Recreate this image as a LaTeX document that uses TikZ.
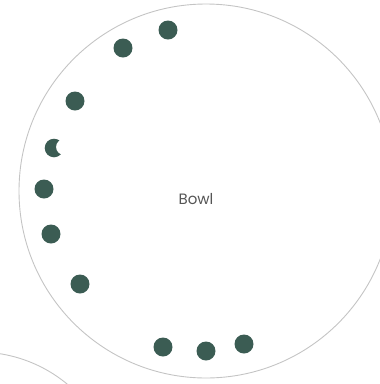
\documentclass[tikz,border=0pt]{standalone}
\usepackage{fontspec}
\setmainfont{Poppins}
\definecolor{dotc}{HTML}{3B5C53}
\definecolor{rim}{HTML}{C4C4C4}
\definecolor{lbl}{HTML}{555555}
\begin{document}
\begin{tikzpicture}[x=1pt,y=-1pt,
  dot/.style={circle,fill=dotc,minimum size=19pt,inner sep=0pt},
  bowlrim/.style={circle,draw=rim,line width=0.9pt,inner sep=0pt}]
\useasboundingbox (0,0) rectangle (380,384);
\begin{scope}
\clip (0,0) rectangle (380,384);
\node[bowlrim,minimum size=374pt] (bowl) at (206,191) {};
\node[bowlrim,minimum size=280pt] (bowl2) at (-22,492) {};
\end{scope}
\node[font=\fontsize{15}{18}\selectfont,text=lbl] (lab) at (196,199) {Bowl};
\node[dot] (d1) at (168,30) {};
\node[dot] (d2) at (123,48) {};
\node[dot] (d3) at (75,101) {};
\node[dot] (d5) at (44,189) {};
\node[dot] (d6) at (51,234) {};
\node[dot] (d7) at (80,284) {};
\node[dot] (d8) at (163,347) {};
\node[dot] (d9) at (206,351) {};
\node[dot] (d10) at (244,344) {};
\begin{scope}[even odd rule]
\clip (0,0) rectangle (380,384) (64,147) circle (8);
\fill[dotc] (54,148) circle (9.3);
\end{scope}
\end{tikzpicture}
\end{document}
